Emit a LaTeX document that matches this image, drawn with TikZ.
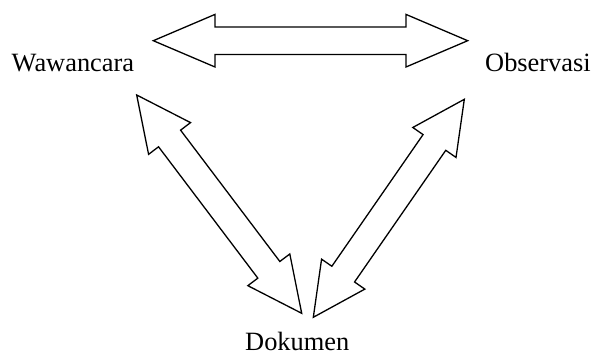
\documentclass[tikz,border=0pt]{standalone}
\usepackage{fontspec}
\setmainfont{Liberation Serif}
\usetikzlibrary{calc}
\tikzset{
  blockarrow/.style={draw=black, fill=white, line width=1.3pt, line join=miter},
  label/.style={inner sep=0pt, anchor=base west, font=\fontsize{26.4}{30}\selectfont}
}
\newcommand\bigdblarrow[3]{%
  \path let \p1=($(#2)-(#1)$) in \pgfextra{%
    \pgfmathsetmacro\bdl{veclen(\x1,\y1)}%
    \pgfmathsetmacro\bda{atan2(\y1,\x1)}%
    \xdef\bdlen{\bdl}\xdef\bdang{\bda}};
  \draw[blockarrow, shift={(#1)}, rotate=\bdang]
    (0,0) -- (#3,26.3) -- (#3,13.8) -- ({\bdlen-#3},13.8) -- ({\bdlen-#3},26.3)
    -- (\bdlen,0) -- ({\bdlen-#3},-26.3) -- ({\bdlen-#3},-13.8) -- (#3,-13.8)
    -- (#3,-26.3) -- cycle;
}
\begin{document}
\begin{tikzpicture}[x=1pt,y=1pt]
\useasboundingbox (0,0) rectangle (592,-356);
\node[label] (waw) at (11.5,-71.7) {Wawancara};
\node[label] (obs) at (485,-71.7) {Observasi};
\node[label] (dok) at (245,-350) {Dokumen};
\coordinate (wo1) at (153.3,-40.7);
\coordinate (wo2) at (467.7,-40.7);
\coordinate (wd1) at (136.7,-95);
\coordinate (wd2) at (301.7,-313.3);
\coordinate (od1) at (464.3,-99.3);
\coordinate (od2) at (313.3,-317.3);
\bigdblarrow{wo1}{wo2}{61.7}
\bigdblarrow{wd1}{wd2}{54.5}
\bigdblarrow{od1}{od2}{52.5}
\end{tikzpicture}
\end{document}
